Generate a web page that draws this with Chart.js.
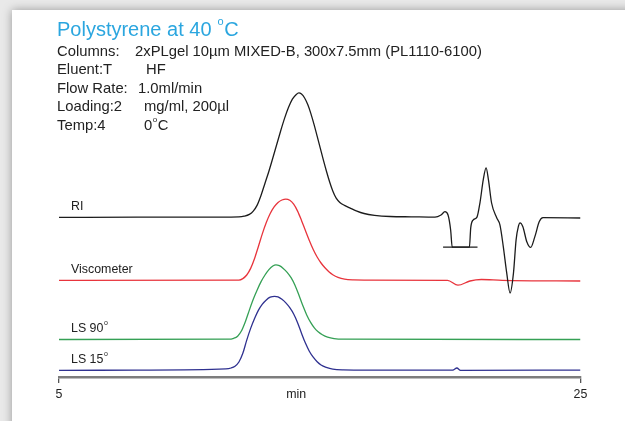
<!DOCTYPE html>
<html>
<head>
<meta charset="utf-8">
<script src="https://cdn.jsdelivr.net/npm/chart.js@4"></script>
<style>
  html, body { margin: 0; padding: 0; }
  body { width: 625px; height: 421px; background: #e9e9e9; position: relative; overflow: hidden; }
  .panel { position: absolute; left: 12px; top: 10px; width: 640px; height: 440px; background: #fff; box-shadow: 0 0 9px rgba(0,0,0,0.35); }
  #chart { position: absolute; left: 0; top: 0; }
</style>
</head>
<body>
<div class="panel"></div>
<canvas id="chart" width="625" height="421"></canvas>
<script>
// retention time (min) and detector response (arbitrary units, traces offset)
const riTime = [5, 8, 11.6, 11.9, 12.1, 12.3, 12.45, 12.6, 12.75, 12.9, 13.05, 13.2, 13.35, 13.5, 13.65, 13.8, 13.95, 14.1, 14.2, 14.3, 14.42, 14.54, 14.66, 14.78, 14.9, 15.02, 15.14, 15.26, 15.38, 15.5, 15.63, 15.77, 15.95, 16.15, 16.4, 16.7, 17.1, 17.7, 18.5, 19.42, 19.65, 19.8, 19.92, 20.02, 20.08, 20.74, 20.79, 20.88, 21.03, 21.15, 21.27, 21.38, 21.47, 21.59, 21.79, 21.91, 22.04, 22.17, 22.3, 22.43, 22.53, 22.62, 22.68, 22.79, 22.94, 23.09, 23.25, 23.42, 23.56, 25];
const riSignal = [53.2, 53.3, 53.3, 53.35, 53.6, 54.2, 55.3, 57.3, 60.6, 64.6, 68.6, 73.0, 77.5, 82.0, 86.2, 89.8, 92.6, 94.2, 94.7, 94.3, 93.0, 90.8, 87.8, 84.2, 80.3, 76.3, 72.3, 68.5, 65.0, 62.0, 59.6, 58.2, 57.2, 56.4, 55.4, 54.5, 53.9, 53.5, 53.4, 53.3, 54.0, 55.1, 54.0, 49.0, 43.3, 43.3, 49.7, 52.3, 53.3, 58.4, 65.7, 69.7, 65.7, 58.0, 53.0, 50.7, 43.4, 34.7, 28.0, 34.7, 45.7, 50.3, 51.4, 50.1, 45.1, 43.2, 46.8, 51.8, 53.1, 53.0];

// flat marker drawn under the RI system peaks
const riMarkTime = [19.73, 21.05];
const riMarkSignal = [43.3, 43.3];

const viscTime = [5, 11.9, 12.05, 12.2, 12.35, 12.5, 12.65, 12.8, 12.95, 13.1, 13.25, 13.4, 13.55, 13.7, 13.85, 14.0, 14.15, 14.3, 14.45, 14.6, 14.75, 14.9, 15.05, 15.2, 15.35, 15.5, 15.7, 15.95, 16.3, 16.7, 19.9, 20.3, 20.76, 21.2, 22.0, 25];
const viscSignal = [32.2, 32.3, 32.8, 34.0, 36.2, 39.5, 43.6, 47.8, 51.5, 54.5, 56.7, 58.2, 59.0, 59.3, 58.9, 57.6, 55.3, 52.2, 48.8, 45.5, 42.5, 40.0, 38.0, 36.4, 35.1, 34.1, 33.2, 32.6, 32.35, 32.3, 32.2, 30.6, 32.0, 32.5, 32.2, 32.0];

const ls90Time = [5, 11.5, 11.7, 11.85, 12.0, 12.15, 12.3, 12.45, 12.6, 12.75, 12.9, 13.05, 13.2, 13.32, 13.45, 13.6, 13.75, 13.9, 14.05, 14.2, 14.35, 14.5, 14.65, 14.8, 14.95, 15.1, 15.3, 15.55, 15.9, 25];
const ls90Signal = [12.5, 12.6, 12.9, 13.6, 15.4, 18.5, 22.3, 25.9, 29.0, 31.8, 34.0, 35.8, 37.0, 37.4, 37.1, 36.2, 34.9, 33.1, 30.6, 27.3, 23.8, 20.7, 18.2, 16.3, 15.0, 14.1, 13.3, 12.8, 12.6, 12.5];

const ls15Time = [5, 8, 11.4, 11.6, 11.75, 11.9, 12.05, 12.2, 12.35, 12.5, 12.65, 12.8, 12.95, 13.1, 13.27, 13.4, 13.55, 13.7, 13.85, 14.0, 14.15, 14.3, 14.45, 14.6, 14.75, 14.9, 15.05, 15.25, 15.5, 15.9, 16.5, 20.1, 20.26, 20.4, 25];
const ls15Signal = [2.2, 2.3, 2.7, 3.0, 3.6, 5.0, 7.9, 12.3, 16.2, 19.5, 22.3, 24.3, 25.7, 26.6, 26.9, 26.7, 25.9, 24.7, 23.1, 21.0, 18.1, 14.6, 11.3, 8.6, 6.6, 5.1, 4.0, 3.2, 2.6, 2.35, 2.3, 2.3, 3.0, 2.2, 2.3];

const xTicks = [5, 25];
const xTitle = "min";

const title = "Polystyrene at 40 ";
const conditions = [
  ["Columns:", "2xPLgel 10µm MIXED-B, 300x7.5mm (PL1110-6100)"],
  ["Eluent:T", "HF"],
  ["Flow Rate:", "1.0ml/min"],
  ["Loading:2", "mg/ml, 200µl"],
  ["Temp:4", "0"],
];

const traceLabels = [
  { text: "RI", sup: "", base: 53.3 },
  { text: "Viscometer", sup: "", base: 32.3 },
  { text: "LS 90", sup: "o", base: 12.6 },
  { text: "LS 15", sup: "o", base: 2.3 },
];

function toPoints(xs, ys) {
  return xs.map((x, i) => ({ x: x, y: ys[i] }));
}

function trace(data, color) {
  return {
    data: data,
    borderColor: color,
    borderWidth: 1.3,
    pointRadius: 0,
    fill: false,
    cubicInterpolationMode: "monotone",
  };
}

const FONT = '"Liberation Sans", Arial, sans-serif';

function supText(ctx, x, y, main, sup, rest, size) {
  ctx.font = size + "px " + FONT;
  ctx.fillText(main, x, y);
  x += ctx.measureText(main).width;
  if (sup) {
    ctx.font = Math.round(size * 0.55) + "px " + FONT;
    ctx.fillText(sup, x + 0.5, y - size * 0.42);
    x += ctx.measureText(sup).width + 1;
  }
  if (rest) {
    ctx.font = size + "px " + FONT;
    ctx.fillText(rest, x, y);
  }
}

const annotations = {
  id: "annotations",
  afterDraw(chart) {
    const ctx = chart.ctx;
    const xs = chart.scales.x;
    const ys = chart.scales.y;
    ctx.save();
    ctx.textBaseline = "middle";
    ctx.textAlign = "left";

    ctx.fillStyle = "#2ba6df";
    supText(ctx, 57, 30, title, "o", "C", 20);

    ctx.fillStyle = "#222";
    const col2 = [135, 146, 138, 144, 144];
    conditions.forEach((row, i) => {
      const y = 52 + i * 18.4;
      ctx.font = "14.8px " + FONT;
      ctx.fillText(row[0], 57, y);
      if (i === 4) {
        supText(ctx, col2[i], y, row[1], "o", "C", 14.8);
      } else {
        ctx.fillText(row[1], col2[i], y);
      }
    });

    traceLabels.forEach((l) => {
      const y = ys.getPixelForValue(l.base) - 10.5;
      supText(ctx, chart.chartArea.left + 12, y, l.text, l.sup, "", 12.4);
    });

    ctx.font = "12.4px " + FONT;
    ctx.textAlign = "center";
    ctx.fillText(xTitle, xs.getPixelForValue(14.1), chart.chartArea.bottom + 18);
    ctx.restore();
  },
};

new Chart(document.getElementById("chart"), {
  type: "line",
  data: {
    datasets: [
      trace(toPoints(riTime, riSignal), "#1c1c1c"),
      Object.assign(trace(toPoints(riMarkTime, riMarkSignal), "#1c1c1c"), { cubicInterpolationMode: "default" }),
      trace(toPoints(viscTime, viscSignal), "#e8343c"),
      trace(toPoints(ls90Time, ls90Signal), "#35a055"),
      trace(toPoints(ls15Time, ls15Signal), "#2f3190"),
    ],
  },
  plugins: [annotations],
  options: {
    responsive: false,
    animation: false,
    devicePixelRatio: 1,
    layout: { padding: { left: 59, right: 44.5, top: 17, bottom: 17 } },
    plugins: { legend: { display: false }, tooltip: { enabled: false } },
    scales: {
      x: {
        type: "linear",
        min: 5,
        max: 25,
        afterBuildTicks: (s) => { s.ticks = xTicks.map((v) => ({ value: v })); },
        afterFit: (s) => { s.height = 27; },
        ticks: { color: "#222", font: { size: 12.4, family: FONT }, padding: 4, maxRotation: 0 },
        grid: { drawOnChartArea: false, drawTicks: true, tickLength: 6, color: "#555", lineWidth: 1.3 },
        border: { color: "#7d7d7d", width: 2.5 },
      },
      y: { display: false, min: 0, max: 120 },
    },
  },
});
</script>
</body>
</html>
